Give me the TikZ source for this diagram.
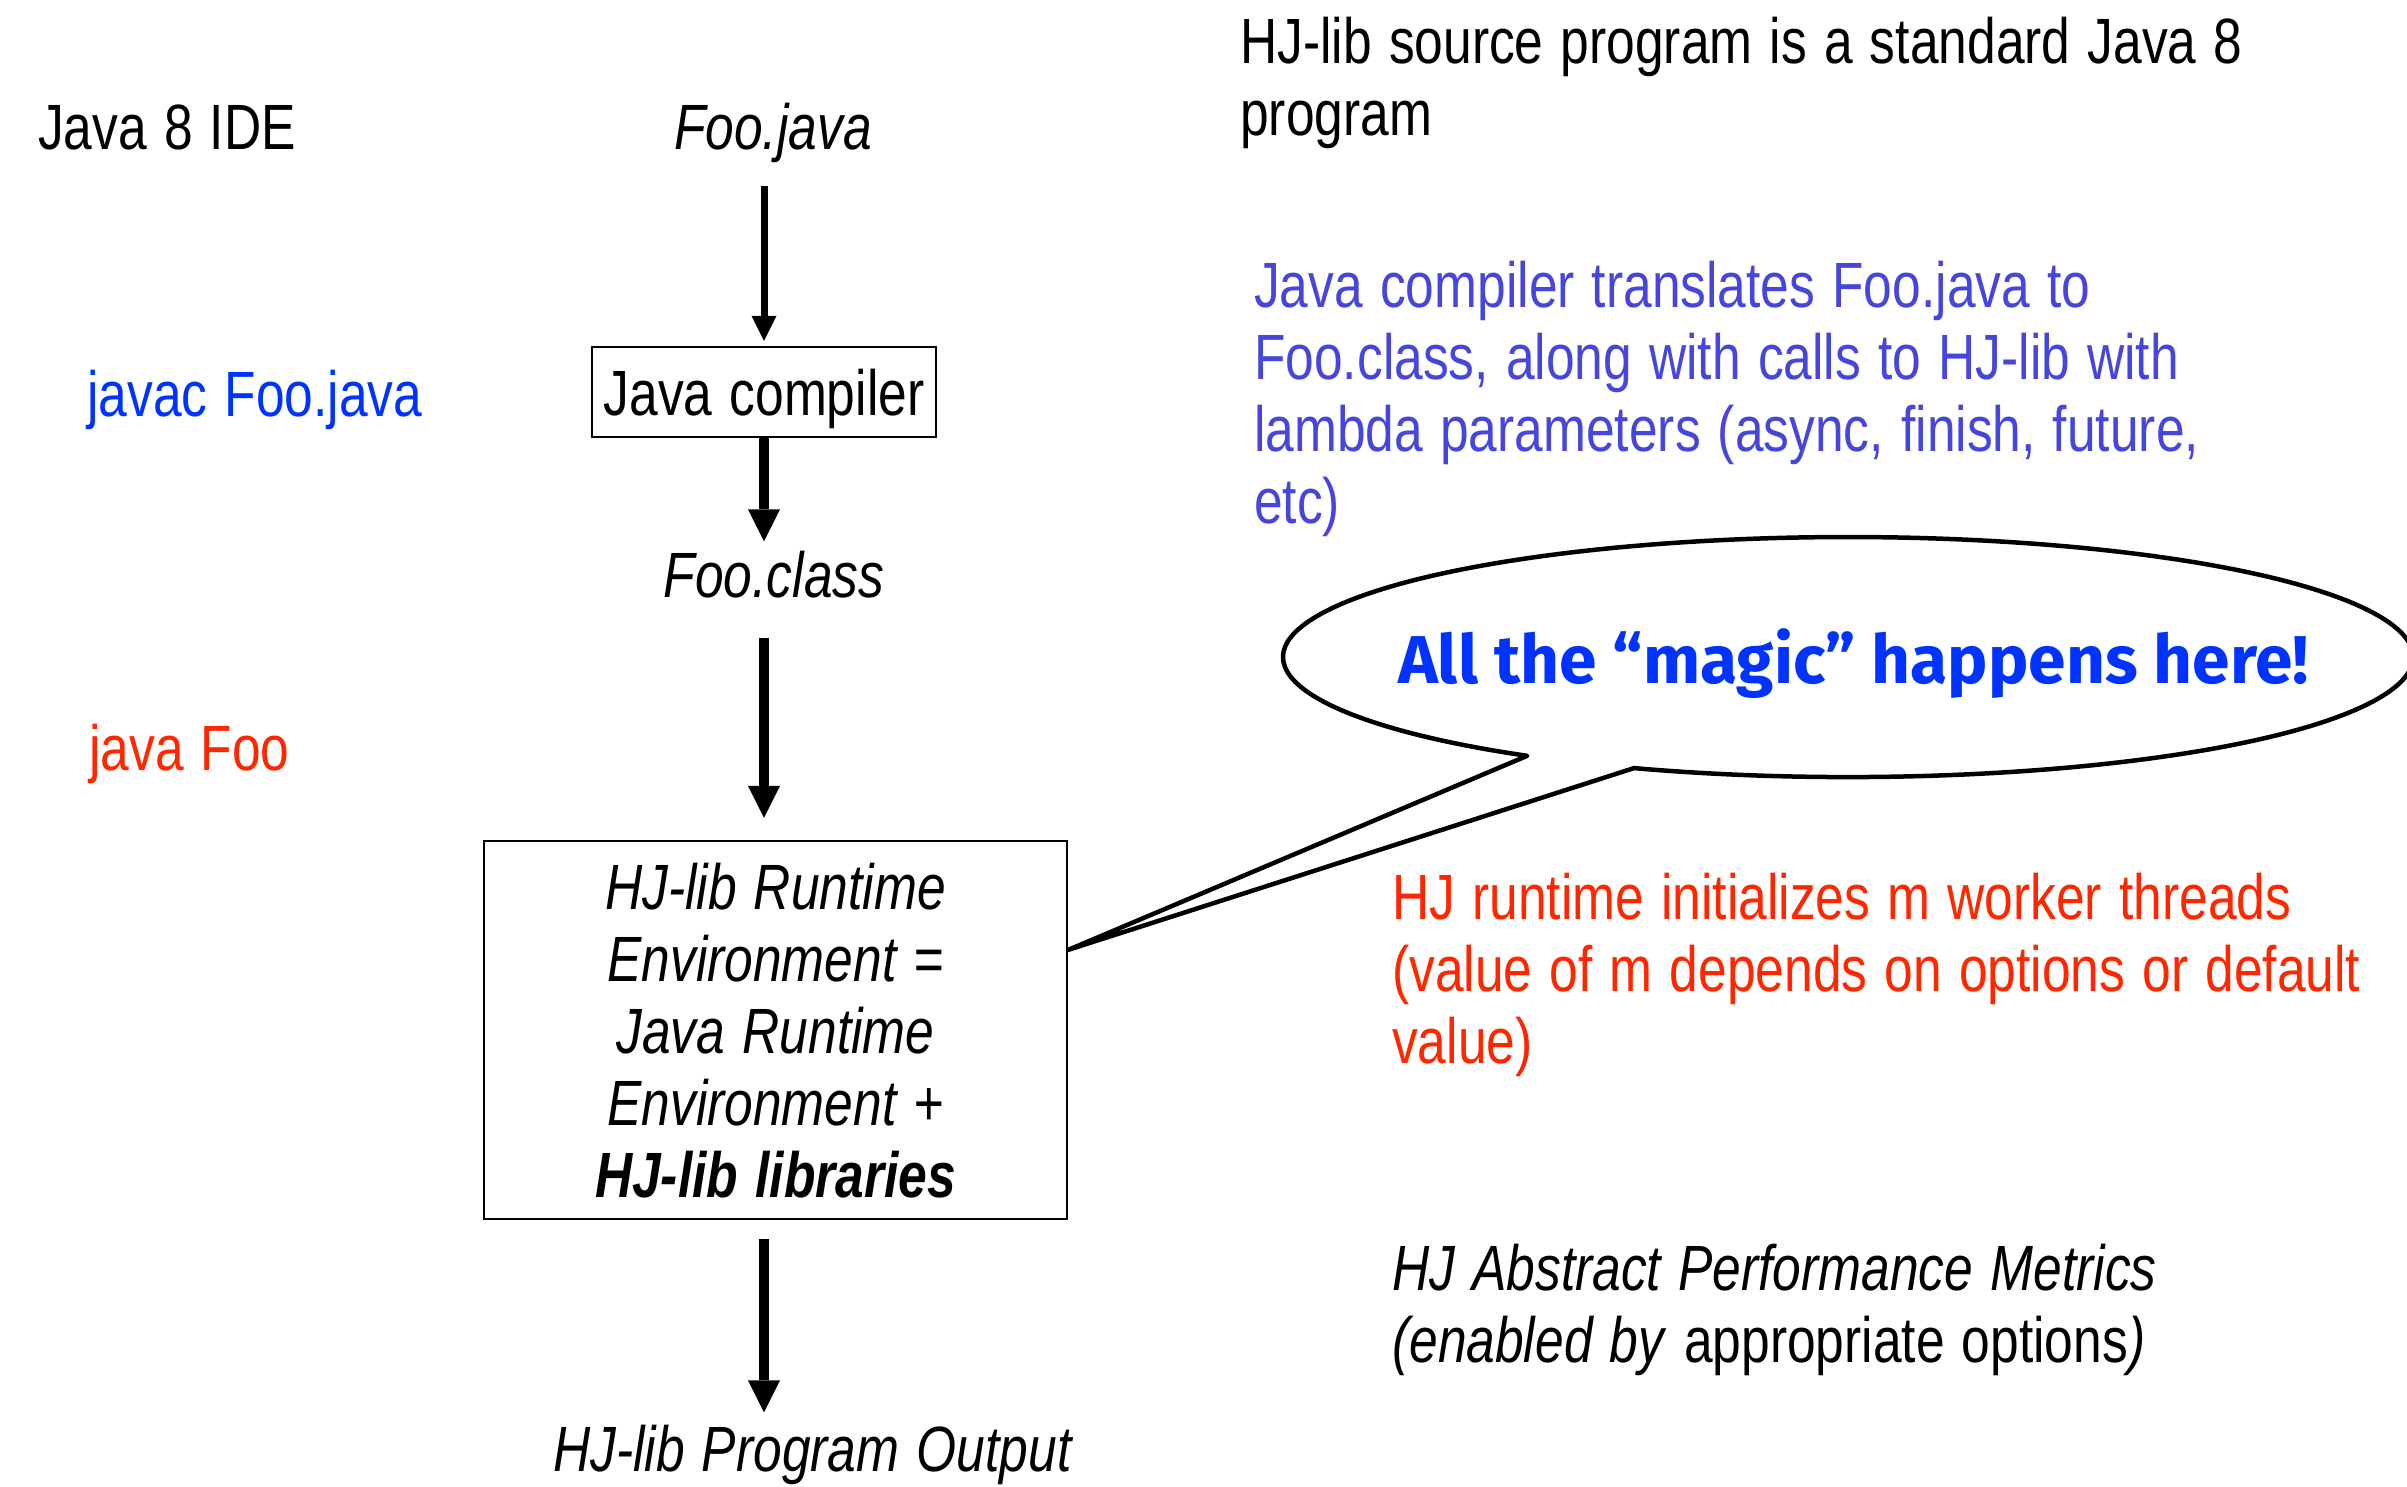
\documentclass[tikz,border=0pt]{standalone}
\usepackage{fontspec}
\usepackage{graphicx}
\setmainfont{Liberation Sans}[FakeStretch=0.805, WordSpace={1.2,0,0}]
\newfontfamily\bubblefont{Fira Sans}
\usetikzlibrary{arrows.meta,calc}

\definecolor{cmdblue}{RGB}{0,51,255}
\definecolor{noteblue}{RGB}{70,70,220}
\definecolor{runred}{RGB}{255,38,0}

% aligned nodes fix the word space; give them back the font's own
\newcommand\fontspaces{\spaceskip=0pt\xspaceskip=0pt\relax}

\begin{document}
\begin{tikzpicture}[x=1pt,y=-1pt,
  txt/.style={inner sep=0pt, font=\fontsize{64}{72}\selectfont},
  para/.style={txt, text width=1100pt, align=left, anchor=base west},
  stage/.style={draw, line width=2.2pt, inner sep=0pt},
  thinarrow/.style={line width=7pt, -{Triangle[width=25pt,length=25pt,line width=0pt]}},
  fatarrow/.style={line width=10.5pt, -{Triangle[width=32pt,length=32pt,line width=0pt]}},
  bubble/.style={draw, fill=white, line width=4.5pt, line join=round}]

\useasboundingbox (0,0) rectangle (2407,1486);

% left column: where each step happens
\node[txt, anchor=base west] (ide) at (38,149) {Java 8 IDE};
\node[txt, anchor=base west, text=cmdblue] (javac) at (87,416) {javac Foo.java};
\node[txt, anchor=base west, text=runred] (javarun) at (89,770) {java Foo};

% middle column: the pipeline
\node[txt, anchor=base, font=\fontsize{64}{72}\selectfont\itshape] (foojava) at (773,149) {Foo.java};
\node[stage, txt, minimum width=344pt, text height=68pt, text depth=22pt, anchor=base]
  (compiler) at (764,415) {Java compiler};
\node[txt, anchor=base, font=\fontsize{64}{72}\selectfont\itshape] (fooclass) at (774,597) {Foo.class};
\node[stage, text width=583pt, align=center, text height=68pt, text depth=310pt, anchor=base,
  font=\fontsize{64}{72}\selectfont\itshape] (hjbox) at (775.5,909)
  {\fontspaces HJ-lib Runtime\\ Environment =\\ Java Runtime\\ Environment +\\ \textbf{HJ-lib libraries}};
\node[txt, anchor=base west, font=\fontsize{64}{72}\selectfont\itshape] (output) at (553,1471)
  {HJ-lib Program Output};

% arrows between the stages
\draw[thinarrow, shorten <=24pt, shorten >=5pt] (compiler.north |- foojava.south) -- (compiler.north);
\draw[fatarrow, shorten >=9pt] (compiler.south) -- (compiler.south |- fooclass.north);
\draw[fatarrow, shorten <=40pt, shorten >=22pt] (compiler.south |- fooclass.south) -- (compiler.south |- hjbox.north);
\draw[fatarrow, shorten <=19pt, shorten >=12pt] (compiler.south |- hjbox.south) -- (compiler.south |- output.north);

% right column: explanations
\node[para] (srcnote) at (1240,63) {\fontspaces HJ-lib source program is a standard Java 8\\ program};
\node[para, text=noteblue] (compnote) at (1254,307)
  {\fontspaces Java compiler translates Foo.java to\\ Foo.class, along with calls to HJ-lib with\\ lambda parameters (async, finish, future,\\ etc)};
\node[para, text=runred] (runnote) at (1392,919)
  {\fontspaces HJ runtime initializes m worker threads\\ (value of m depends on options or default\\ value)};
\node[para] (metrics) at (1392,1290)
  {\fontspaces\textit{HJ Abstract Performance Metrics}\\ \textit{(enabled by} appropriate options\textit{)}};

% speech bubble pointing at the runtime box
\coordinate (tail) at ([yshift=-110pt]hjbox.north east);
\begin{scope}
  \clip (0,0) rectangle (2407,1486);
  \draw[bubble] (tail) -- (1634,768.1)
    arc[start angle=112.26, end angle=-235.4, x radius=565, y radius=120] -- cycle;
\end{scope}
\node[inner sep=0pt, anchor=base, text=cmdblue] (magic) at (1853.5,683)
  {\resizebox{911pt}{!}{\bubblefont\bfseries\fontsize{60}{60}\selectfont All the “magic” happens here!}};

\end{tikzpicture}
\end{document}
